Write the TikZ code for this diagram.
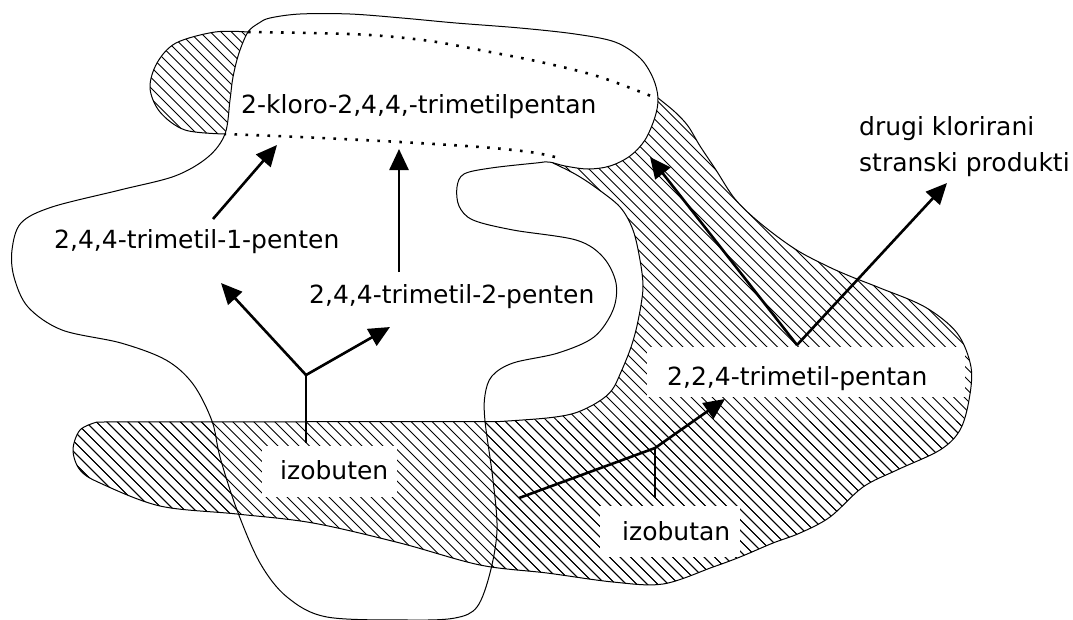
\documentclass[tikz,border=0pt]{standalone}
\usepackage{fontspec}
\setmainfont{DejaVu Sans}
\usetikzlibrary{arrows.meta}
\begin{document}
\begin{tikzpicture}[x=1pt,y=-1pt,
  outline/.style={line width=1pt, line join=round},
  hidden/.style={line width=2.6pt, dash pattern=on 2.6pt off 8.4pt},
  hatch/.style={line width=1pt},
  arr/.style={line width=2.6pt, line join=round, -{Triangle[length=21pt,width=19pt]}},
  stem/.style={line width=2.4pt},
  lbl/.style={font=\fontsize{25}{30}\selectfont, inner sep=0pt, anchor=base west},
  gap/.style={fill=white, draw=none, inner sep=0pt}
]
\useasboundingbox (0,0) rectangle (1073,619);
\fill[white] (0,0) rectangle (1073,619);

\def\Wpath{plot[smooth cycle, tension=0.55] coordinates {(225,134) (230,100) (233,77) (239,53) (248,32) (259,23) (270,18) (300,14) (350,14) (402,18) (456,23) (520,28) (575,34) (615,42) (640,58) (653,78) (658,98) (655,117) (645,140) (630,156) (610,166) (588,169) (565,166) (549,162) (536,163) (491,168) (464,174) (457,187) (459,206) (473,220) (513,230) (576,240) (603,257) (616,283) (613,310) (594,337) (558,353) (513,363) (492,376) (485,395) (485,421) (493,480) (497,530) (490,573) (477,607) (455,618) (410,620) (327,617) (287,597) (260,563) (237,510) (220,457) (212,421) (193,384) (166,360) (121,343) (62,330) (28,307) (14,277) (12,250) (21,223) (52,207) (120,190) (175,176) (208,157)}}

\def\Pone{plot[smooth, tension=0.55] coordinates {(248,32) (310,33) (370,35) (430,41) (490,52) (545,63) (600,77) (656,98)}}
\def\Ptwo{plot[smooth, tension=0.55] coordinates {(658,98) (675,112) (688,126) (700,146) (716,170) (735,199) (760,223) (795,249) (827,266) (852,277) (880,288) (925,307) (957,333) (971,367) (969,400) (960,430) (940,450) (897,470) (863,487) (830,517) (800,533) (773,543) (740,557) (713,567) (663,584) (613,582) (547,573) (480,565) (400,543) (313,523) (237,514) (160,506) (100,483) (80,470) (73,450) (80,430) (97,422)}}
\def\Pfour{plot[smooth, tension=0.55] coordinates {(500,421.5) (547,418) (575,413) (598,402) (612,390) (621,372) (630,350) (636,330) (641,305) (643,285) (640,260) (633,230) (620,207) (595,187) (575,174) (553,163)}}
\def\Pfive{plot[smooth, tension=0.55] coordinates {(555,157) (530,152) (480,147) (400,142) (300,137) (225,134)}}
\def\Psix{plot[smooth, tension=0.55] coordinates {(225,134) (185,130) (160,112) (150,88) (157,63) (176,43) (215,32) (248,32)}}
\edef\Hpath{\Pone\space -- \Ptwo\space -- \Pfour\space -- \Pfive\space -- \Psix\space -- cycle}
\edef\Hsolid{\Ptwo\space -- \Pfour}
\newcommand\hatchlines{\foreach \hc in {-630,-619.5,...,1085} {\draw[hatch] (\hc,0) -- ++(700,700);}}

% hatched region (whole)
\begin{scope}
  \clip \Hpath;
  \hatchlines
\end{scope}
% white region on top
\fill[white] \Wpath;
% band re-hatched over the white region
\begin{scope}
  \clip (0,421.5) rectangle (1073,619);
  \clip \Hpath;
  \hatchlines
\end{scope}

% white gaps behind labels
\node[gap, minimum width=318pt, minimum height=50pt] (box224) at (806,372) {};
\node[gap, minimum width=135pt, minimum height=51pt] (boxbuten) at (329.5,471.5) {};
\node[gap, minimum width=140pt, minimum height=51pt] (boxbutan) at (670,531.5) {};

% outlines
\draw[outline] \Wpath;
\draw[outline] \Hsolid;
\draw[outline] \Psix;
\draw[hidden] \Pone;
\draw[hidden] \Pfive;

% labels
\node[lbl] (kloro) at (241,113) {2-kloro-2,4,4,-trimetilpentan};
\node[lbl] (pent1) at (54,248) {2,4,4-trimetil-1-penten};
\node[lbl] (pent2) at (309,303) {2,4,4-trimetil-2-penten};
\node[lbl] (drugi) at (859,135) {drugi klorirani};
\node[lbl] (stranski) at (859,171) {stranski produkti};
\node[lbl] (tmp) at (667,385) {2,2,4-trimetil-pentan};
\node[lbl] (izobuten) at (280,479) {izobuten};
\node[lbl] (izobutan) at (622,540) {izobutan};

% arrow end points
\coordinate (aA0) at (213,219); \coordinate (aA1) at (277,145);
\coordinate (aB0) at (399,272); \coordinate (aB1) at (399,149);
\coordinate (j1) at (306,375); \coordinate (j1s) at (306,443);
\coordinate (j1l) at (221,283); \coordinate (j1r) at (390,327);
\coordinate (t2) at (519,498); \coordinate (j2) at (655,448);
\coordinate (j2s) at (655,498); \coordinate (j2t) at (725,399);
\coordinate (j3) at (797,345); \coordinate (j3l) at (650,157); \coordinate (j3r) at (947,183);

\draw[arr] (aA0) -- (aA1);
\draw[arr] (aB0) -- (aB1);
\draw[stem] (j1s) -- (j1);
\draw[arr] (j1) -- (j1l);
\draw[arr] (j1) -- (j1r);
\draw[stem] (j2s) -- (j2);
\draw[arr] (t2) -- (j2) -- (j2t);
\draw[arr] (j3) -- (j3l);
\draw[arr] (j3) -- (j3r);
\end{tikzpicture}
\end{document}
